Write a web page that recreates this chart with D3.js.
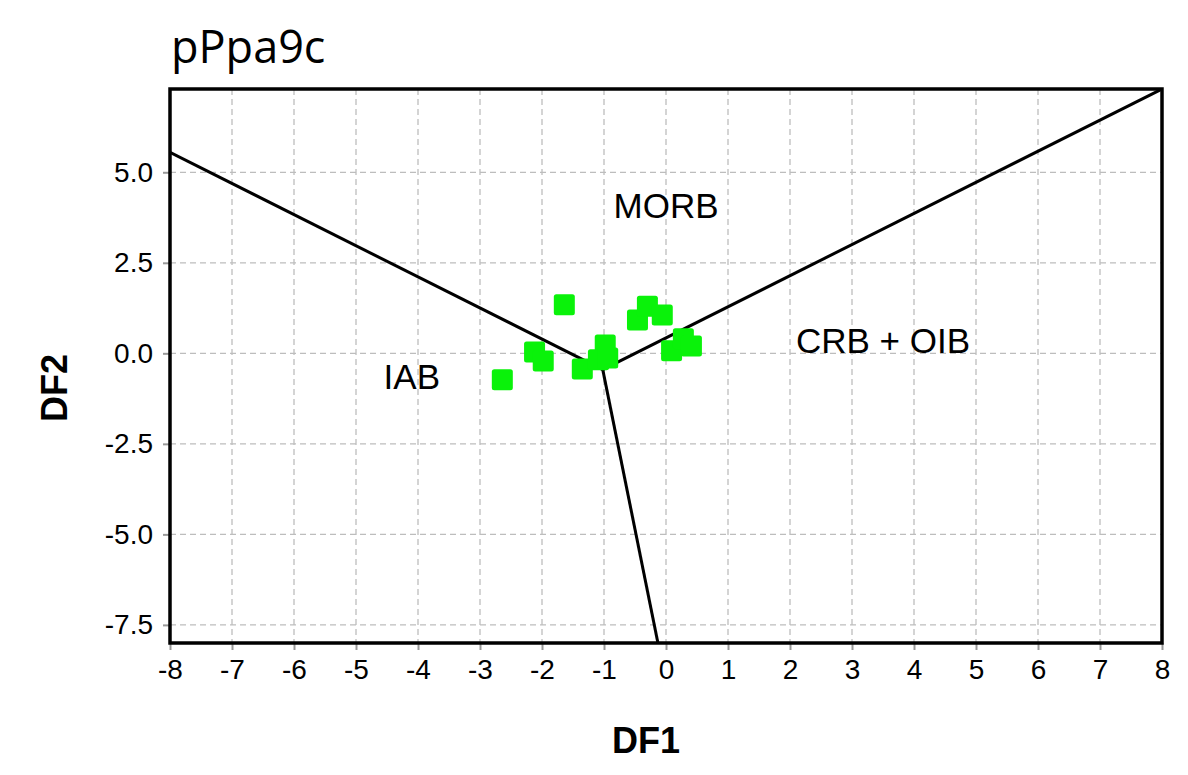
<!DOCTYPE html>
<html>
<head>
<meta charset="utf-8">
<script src="https://cdn.jsdelivr.net/npm/d3@7"></script>
<style>
  body { margin: 0; background: #fff; }
  text { font-family: "Liberation Sans", Arial, sans-serif; }
</style>
</head>
<body>
<div id="chart"></div>
<script>
// sample points (DF1, DF2)
var df1 = [-2.64, -1.64, -2.12, -1.98, -1.35, -0.98, -1.09, -0.94, -0.46, -0.30, -0.06, 0.09, 0.28, 0.41];
var df2 = [-0.73, 1.34, 0.04, -0.21, -0.43, 0.23, -0.18, -0.13, 0.92, 1.30, 1.06, 0.07, 0.40, 0.20];

// field boundaries, all meeting at one junction
var junction = [-1.02, -0.45];
var boundEnds = [[-8, 5.55], [8, 7.3], [-0.13, -8]];

var fieldNames = ["MORB", "IAB", "CRB + OIB"];
var fieldPos = [[0.0, 3.74], [-4.1, -0.98], [3.5, 0.02]];

var xTicks = d3.range(-8, 9, 1);
var yTicks = [-7.5, -5.0, -2.5, 0.0, 2.5, 5.0];

var W = 1188, H = 775;
var margin = {top: 89, right: 26, bottom: 132, left: 170},
    width = W - margin.left - margin.right,
    height = H - margin.top - margin.bottom;

var x = d3.scaleLinear().domain([-8, 8]).range([0, width]);
var y = d3.scaleLinear().domain([-8, 7.3]).range([height, 0]);

var svg = d3.select("#chart").append("svg")
    .attr("width", W)
    .attr("height", H);

svg.append("text")
    .attr("x", margin.left + 1)
    .attr("y", 63)
    .style("font-family", "'Open Sans', sans-serif")
    .style("font-size", "45px")
    .text("pPpa9c");

var g = svg.append("g")
    .attr("transform", "translate(" + margin.left + "," + margin.top + ")");

g.append("clipPath").attr("id", "clip")
  .append("rect").attr("width", width).attr("height", height);

// grid
g.selectAll(".gx").data(xTicks.slice(1, -1)).enter().append("line")
    .attr("x1", function(d) { return x(d); })
    .attr("x2", function(d) { return x(d); })
    .attr("y1", 0).attr("y2", height)
    .attr("stroke", "#bdbdbd").attr("stroke-width", 1.3)
    .attr("stroke-dasharray", "6,4");
g.selectAll(".gy").data(yTicks).enter().append("line")
    .attr("y1", function(d) { return y(d); })
    .attr("y2", function(d) { return y(d); })
    .attr("x1", 0).attr("x2", width)
    .attr("stroke", "#bdbdbd").attr("stroke-width", 1.3)
    .attr("stroke-dasharray", "6,4");

// axes (plain hyphen for negatives, like the original)
var fx = function(d) { return String(d); };
var fy = function(d) { return d.toFixed(1); };
var xAxis = g.append("g")
    .attr("transform", "translate(0," + height + ")")
    .call(d3.axisBottom(x).tickValues(xTicks).tickSize(7).tickPadding(9).tickFormat(fx));
var yAxis = g.append("g")
    .call(d3.axisLeft(y).tickValues(yTicks).tickSize(7).tickPadding(10).tickFormat(fy));
[xAxis, yAxis].forEach(function(a) {
  a.select(".domain").remove();
  a.selectAll(".tick line").attr("stroke", "#999").attr("stroke-width", 2);
  a.selectAll(".tick text")
    .style("font-family", "'Liberation Sans', Arial, sans-serif")
    .style("font-size", "28px")
    .attr("fill", "#000");
});

// boundary lines
var lines = g.append("g").attr("clip-path", "url(#clip)");
lines.selectAll("line").data(boundEnds).enter().append("line")
    .attr("x1", x(junction[0])).attr("y1", y(junction[1]))
    .attr("x2", function(d) { return x(d[0]); })
    .attr("y2", function(d) { return y(d[1]); })
    .attr("stroke", "#000").attr("stroke-width", 3);

// points
g.selectAll(".pt").data(df1).enter().append("rect")
    .attr("class", "pt")
    .attr("x", function(d) { return x(d) - 10.5; })
    .attr("y", function(d, i) { return y(df2[i]) - 10.5; })
    .attr("width", 21).attr("height", 21)
    .attr("rx", 2.5)
    .attr("fill", "#0af20a");

// field labels
g.selectAll(".fl").data(fieldNames).enter().append("text")
    .attr("x", function(d, i) { return x(fieldPos[i][0]); })
    .attr("y", function(d, i) { return y(fieldPos[i][1]); })
    .attr("text-anchor", "middle")
    .style("font-size", "35px")
    .text(function(d) { return d; });

// frame
g.append("rect")
    .attr("width", width).attr("height", height)
    .attr("fill", "none").attr("stroke", "#000").attr("stroke-width", 3.5);

// axis titles
svg.append("text")
    .attr("x", 646).attr("y", 753)
    .attr("text-anchor", "middle")
    .style("font-weight", "bold").style("font-size", "36px")
    .text("DF1");
svg.append("text")
    .attr("transform", "translate(67,388) rotate(-90)")
    .attr("text-anchor", "middle")
    .style("font-weight", "bold").style("font-size", "36px")
    .text("DF2");
</script>
</body>
</html>
